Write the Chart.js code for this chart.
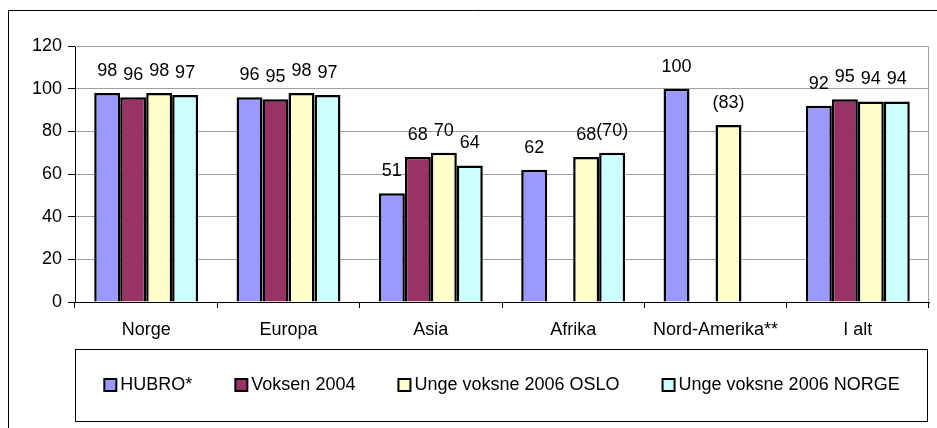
<!DOCTYPE html>
<html>
<head>
	<meta charset="utf-8">
	<script type="text/javascript" src="https://cdn.jsdelivr.net/npm/chart.js@4/dist/chart.umd.min.js"></script>
	<style type="text/css">
	body{
		margin: 0;
		background: #fff;
	}
	#holder{
		width: 937px;
		height: 428px;
	}
	</style>
</head>
<body>
	<div id="holder">
		<canvas id="chart-area"></canvas>
	</div>

	<script>

	// categories and series
	var regions = ['Norge', 'Europa', 'Asia', 'Afrika', 'Nord-Amerika**', 'I alt'];
	var hubro = [98, 96, 51, 62, 100, 92];
	var voksen2004 = [96, 95, 68, null, null, 95];
	var ungeOslo = [98, 98, 70, 68, 83, 94];
	var ungeNorge = [97, 97, 64, 70, null, 94];
	// values shown in brackets (category indexes)
	var bracketOslo = [4];
	var bracketNorge = [3];
	var yTicks = [0, 20, 40, 60, 80, 100, 120];

	var FONT = '"Liberation Sans", Arial, sans-serif';

	// frame round the whole picture + grey plot border
	var framePlugin = {
		id: 'frame',
		beforeDraw: function(chart) {
			var ctx = chart.ctx;
			ctx.save();
			ctx.strokeStyle = '#000';
			ctx.lineWidth = 1;
			ctx.beginPath();
			ctx.moveTo(8.5, 440);
			ctx.lineTo(8.5, 10.5);
			ctx.lineTo(940, 10.5);
			ctx.stroke();
			ctx.restore();
		},
		beforeDatasetsDraw: function(chart) {
			var a = chart.chartArea, ctx = chart.ctx;
			ctx.save();
			ctx.strokeStyle = '#a0a0a0';
			ctx.lineWidth = 1;
			ctx.beginPath();
			ctx.moveTo(a.left, a.top + 0.5);
			ctx.lineTo(a.right - 0.5, a.top + 0.5);
			ctx.lineTo(a.right - 0.5, a.bottom);
			ctx.stroke();
			ctx.restore();
		}
	};

	// value labels above the bars
	var valueLabels = {
		id: 'valueLabels',
		afterDatasetsDraw: function(chart) {
			var ctx = chart.ctx;
			ctx.save();
			ctx.font = '18px ' + FONT;
			ctx.fillStyle = '#000';
			ctx.textAlign = 'center';
			ctx.textBaseline = 'middle';
			chart.data.datasets.forEach(function(ds, i) {
				var meta = chart.getDatasetMeta(i);
				meta.data.forEach(function(bar, j) {
					var v = ds.data[j];
					if (v === null) return;
					var txt = String(v);
					if (ds.brackets && ds.brackets.indexOf(j) >= 0) txt = '(' + v + ')';
					ctx.fillText(txt, bar.x, bar.y - 22);
				});
			});
			ctx.restore();
		}
	};

	// Excel style legend in a box under the axis
	var boxLegend = {
		id: 'boxLegend',
		afterDraw: function(chart) {
			var ctx = chart.ctx, a = chart.chartArea;
			var top = 349.5, bottom = 421.5, left = a.left + 0.5, right = a.right - 1.5;
			ctx.save();
			ctx.strokeStyle = '#000';
			ctx.lineWidth = 1;
			ctx.strokeRect(left, top, right - left, bottom - top);

			ctx.font = '18px ' + FONT;
			var sq = 12, gapText = 3, gap = 42;
			var widths = chart.data.datasets.map(function(ds) {
				return sq + 2 + gapText + ctx.measureText(ds.label).width;
			});
			var total = widths.reduce(function(s, w) { return s + w; }, 0) + gap * (widths.length - 1);
			var x = (left + right) / 2 - total / 2;
			var cy = 385;
			ctx.textBaseline = 'middle';
			ctx.textAlign = 'left';
			chart.data.datasets.forEach(function(ds, i) {
				ctx.fillStyle = ds.backgroundColor;
				ctx.fillRect(x + 1, cy - sq / 2, sq, sq);
				ctx.lineWidth = 2;
				ctx.strokeStyle = '#000';
				ctx.strokeRect(x + 1, cy - sq / 2, sq, sq);
				ctx.fillStyle = '#000';
				ctx.fillText(ds.label, x + sq + 2 + gapText, cy);
				x += widths[i] + gap;
			});
			ctx.restore();
		}
	};

	function series(label, data, color, brackets) {
		return {
			label: label,
			data: data,
			backgroundColor: color,
			borderColor: '#000',
			borderWidth: 2.5,
			categoryPercentage: 0.73,
			barPercentage: 1.0,
			brackets: brackets || []
		};
	}

	var config = {
		type: 'bar',
		data: {
			labels: regions,
			datasets: [
				series('HUBRO*', hubro, '#9999ff'),
				series('Voksen 2004', voksen2004, '#993366'),
				series('Unge voksne 2006 OSLO', ungeOslo, '#ffffcc', bracketOslo),
				series('Unge voksne 2006 NORGE', ungeNorge, '#ccffff', bracketNorge)
			]
		},
		options: {
			responsive: true,
			maintainAspectRatio: false,
			animation: false,
			layout: {
				padding: { top: 46, right: 8, left: 0, bottom: 0 }
			},
			plugins: {
				legend: { display: false },
				tooltip: { enabled: false }
			},
			scales: {
				x: {
					grid: {
						offset: true,
						drawOnChartArea: false,
						tickLength: 6,
						tickColor: '#000'
					},
					border: { color: '#000', width: 1 },
					ticks: {
						color: '#000',
						padding: 11,
						font: { family: FONT, size: 18 }
					},
					afterFit: function(scale) { scale.height = 126; }
				},
				y: {
					min: 0,
					max: 120,
					afterBuildTicks: function(scale) {
						scale.ticks = yTicks.map(function(v) { return { value: v }; });
					},
					grid: {
						color: '#a0a0a0',
						tickColor: '#000',
						tickLength: 7
					},
					border: { color: '#000', width: 1 },
					ticks: {
						color: '#000',
						padding: 6,
						font: { family: FONT, size: 18 }
					},
					afterFit: function(scale) { scale.width = 75; }
				}
			}
		},
		plugins: [framePlugin, valueLabels, boxLegend]
	};

	window.onload = function() {
		var ctx = document.getElementById('chart-area').getContext('2d');
		new Chart(ctx, config);
	};

	</script>
</body>
</html>
